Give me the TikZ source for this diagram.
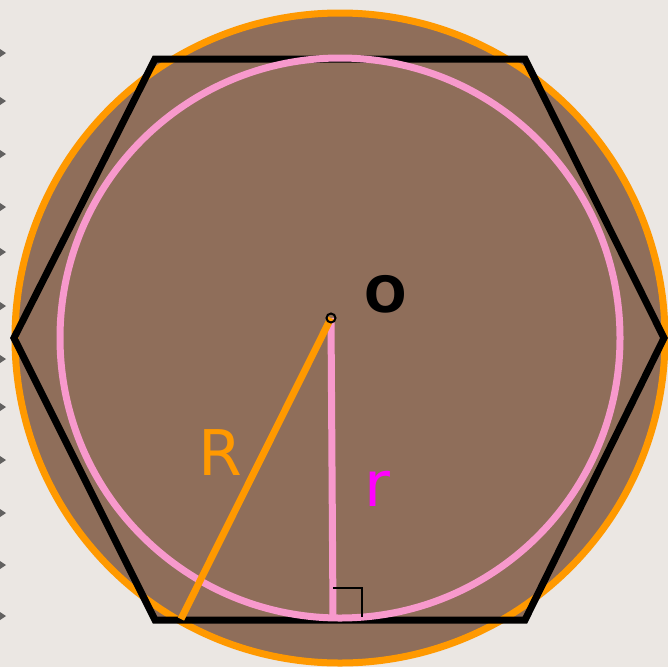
\documentclass[tikz,border=0pt]{standalone}
\usepackage{fontspec}
\setmainfont{DejaVu Sans}
\definecolor{paper}{HTML}{EBE7E3}
\definecolor{bolt}{HTML}{8F6E5A}
\definecolor{outer}{HTML}{FF9900}
\definecolor{inner}{HTML}{F799CC}
\definecolor{label}{HTML}{FF00FF}
\tikzset{
  rim/.style={line width=7pt},
  edge/.style={line width=7pt, line join=miter},
  bigtext/.style={font=\fontsize{63}{63}\selectfont, inner sep=0pt, anchor=base}
}
\begin{document}
\begin{tikzpicture}[x=1pt,y=-1pt]
    \fill[paper] (0,0) rectangle (668,667);% background
    \useasboundingbox (0,0) rectangle (668,667);
    \foreach \y in {53,101,154,207,252,306,359,407,460,513,565,616}
        \fill[black!75,opacity=0.8] (0,\y-4) -- (6,\y) -- (0,\y+4) -- cycle;% binding marks
    \coordinate (C) at (340,338);% centre of the circles
    \coordinate (O) at (331,318);% point O
    \fill[bolt] (C) circle (325);% fill the disc
    \fill[bolt] (14,338) -- (155,59) -- (525,59) -- (664,338) -- (525,620) -- (155,620) -- cycle;% fill the hexagon
    \draw[outer,rim] (C) circle (325);% circumscribed circle
    \draw[edge] (14,338) -- (155,59) -- (525,59) -- (664,338) -- (525,620) -- (155,620) -- cycle;% draw the hexagon
    \draw[inner,rim] (C) circle (280);% inscribed circle
    \coordinate (Foot) at (333,617);
    \coordinate (Rend) at (181,619);
    \draw[inner,rim] (O) -- (Foot);% small radius
    \draw[outer,rim] (O) -- (Rend);% large radius
    \draw[line width=2pt] (O) circle (4.5);% mark the centre
    \draw[line width=1.5pt] (333,588) -- (362,588) -- (362,617);% right angle
    \node[bigtext,font=\fontsize{50}{50}\selectfont\bfseries] (lo) at (386,312) {O};% label the centre
    \node[bigtext,text=outer] (lR) at (220.5,475) {R};% label R
    \node[bigtext,text=label] (lr) at (377,506) {r};% label r
\end{tikzpicture}
\end{document}
